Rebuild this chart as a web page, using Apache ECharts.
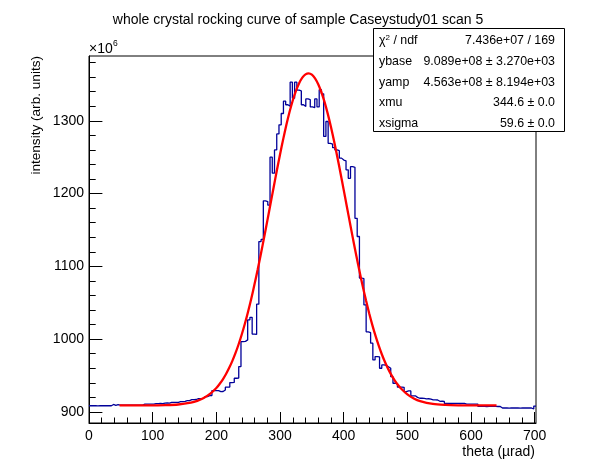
<!DOCTYPE html>
<html><head><meta charset="utf-8">
<script src="https://cdn.jsdelivr.net/npm/echarts@6/dist/echarts.min.js"></script>
<style>html,body{margin:0;padding:0;background:#fff}#c{width:596px;height:472px}</style>
</head><body><div id="c"></div>
<script>
// ---- data ----
const binWidth = 3.51;           // histogram bin width (µrad), bins start at 0
const histValues = [
  908.5,908.5,908.5,908.4,908.5,908.5,908.6,908.5,908.5,908.5,
  910.3,909.0,910.0,909.3,
  909.3,909.2,909.3,909.3,909.4,909.3,909.2,909.3,909.4,909.3,
  910.7,910.6,910.8,910.7,910.7,
  911.5,911.4,911.6,911.5,
  912.2,912.3,912.2,
  913.0,913.1,913.0,913.2,
  914.3,914.2,914.4,
  915.5,915.6,
  917.0,916.9,917.1,
  918.3,918.4,918.3,
  921.0,921.1,
  922.4,922.5,
  929.3,929.2,929.4,
  928.0,928.1,
  930.2,
  934.0,934.1,
  940.3,940.5,
  946.3,946.6,
  962.3,
  996.6,997.0,
  999.0,
  1026.5,1030.0,
  1007.0,1006.5,
  1048,
  1134,
  1137,
  1190,1189,
  1184,
  1250,
  1228,
  1260,
  1282,
  1294.5,
  1310,
  1327,
  1322,
  1320,
  1353,
  1331,
  1353,
  1342,1341,
  1322,
  1319.7,
  1330,1329,
  1319,1318,
  1330,
  1319,
  1342.6,
  1337,
  1278.5,
  1299,
  1269,1268,
  1263,
  1260,1259,
  1248.7,
  1246,1245,
  1232.6,
  1221,
  1237,1236,
  1166,
  1141,
  1084,1083,
  1047,
  1010,1009,
  994.4,
  971.5,
  976,975.5,
  960,
  964.6,964,
  962,
  960,
  948.5,
  939.4,939,
  934,934.2,933.8,
  928,
  929,928.8,
  922,922.2,
  920,
  918.8,918.9,918.7,
  918,918.1,
  917.5,
  916.5,916.6,916.4,
  914.6,914.7,914.5,
  911.7,911.8,911.6,911.7,911.9,911.7,911.6,911.8,911.7,
  910.7,910.8,910.6,910.7,910.7,910.8,
  907.6,907.7,907.6,907.5,907.6,907.7,907.6,907.6,907.5,907.6,
  905.4,905.4,905.5,905.3,905.4,905.4,905.5,905.4,905.3,905.4,905.4,905.5,905.4,905.4,
  904,
  908
];
// red fit curve
const fitX = [48,60,80,100,120,140,160,170,180,190,200,205,210,215,220,225,230,235,240,245,250,255,260,265,270,275,280,285,290,295,300,305,310,315,320,325,330,335,340,345,350,355,360,365,370,375,380,385,390,395,400,405,410,415,420,425,430,435,440,445,450,455,460,465,470,475,480,485,490,500,510,520,540,560,580,600,620,640];
const fitY = [908.9,908.9,908.9,909.0,909.3,910.2,912.7,915.1,919.0,924.7,932.9,938.3,944.5,951.8,960.2,969.8,980.7,993.0,1006.7,1021.8,1038.4,1056.3,1075.6,1095.9,1117.4,1139.6,1162.5,1185.6,1208.8,1231.6,1253.8,1274.8,1294.4,1312.3,1327.9,1341.2,1351.7,1359.3,1363.8,1365.2,1363.3,1358.3,1350.2,1339.2,1325.6,1309.5,1291.4,1271.5,1250.3,1228.0,1205.1,1182.0,1158.8,1136.0,1113.9,1092.6,1072.3,1053.4,1035.6,1019.3,1004.4,991.0,978.9,968.2,958.8,950.6,943.4,937.4,932.2,924.1,918.6,914.9,911.0,909.6,909.1,909.0,908.9,908.9];

const xMajorTicks = [0,100,200,300,400,500,600,700];
const xMinorTicks = [20,40,60,80,120,140,160,180,220,240,260,280,320,340,360,380,420,440,460,480,520,540,560,580,620,640,660,680];
const yMajorTicks = [900,1000,1100,1200,1300];
const yMinorTicks = [920,940,960,980,1020,1040,1060,1080,1120,1140,1160,1180,1220,1240,1260,1280,1320,1340,1360,1380];

const titleText = 'whole crystal rocking curve of sample Caseystudy01 scan 5';
const xTitle = 'theta (\u00b5rad)';
const yTitle = 'intensity (arb. units)';
const statsLabels = ['\u03c7{sup|2} / ndf', 'ybase', 'yamp', 'xmu', 'xsigma'];
const statsValues = ['7.436e+07 / 169', '9.089e+08 \u00b1 3.270e+03', '4.563e+08 \u00b1 8.194e+03', '344.6 \u00b1 0.0', '59.6 \u00b1 0.0'];

// ---- chart ----
const FONT = '"Liberation Sans", Arial, Helvetica, sans-serif';
const histData = histValues.map((v, i) => [i * binWidth, v]);
histData.push([histValues.length * binWidth, histValues[histValues.length - 1]]);
const fitData = fitX.map((x, i) => [x, fitY[i]]);

const X_MIN = 0, X_MAX = 702, Y_MIN = 884.8, Y_MAX = 1389;

function mkAxis(dim, major, minor, majLen, minLen, isMinor) {
  const a = {
    type: 'value', min: dim === 'x' ? X_MIN : Y_MIN, max: dim === 'x' ? X_MAX : Y_MAX,
    position: dim === 'x' ? 'bottom' : 'left',
    splitLine: { show: false },
    axisLine: { show: !isMinor, onZero: false, lineStyle: { color: '#000', width: 1 } },
    axisTick: { show: true, inside: true, length: isMinor ? minLen : majLen,
      customValues: isMinor ? minor : major, lineStyle: { color: '#000', width: 1 } },
    axisLabel: isMinor ? { show: false } : {
      show: true, customValues: major, color: '#000', fontSize: 14, fontFamily: FONT,
      margin: dim === 'x' ? 6 : 5,
      formatter: function (v) { return String(Math.round(v)); }
    }
  };
  return a;
}

const chart = echarts.init(document.getElementById('c'), null, { renderer: 'canvas' });

const statsGraphics = [{
  type: 'rect', z: 100,
  shape: { x: 373.5, y: 28.5, width: 191, height: 103 },
  style: { fill: '#fff', stroke: '#000', lineWidth: 1 }
}];
const rowY = [41, 62, 82.5, 103, 123.5];
statsLabels.forEach((t, i) => {
  statsGraphics.push({
    type: 'text', z: 101, x: 379, y: rowY[i],
    style: { text: t, fill: '#000', fontSize: 12.4, fontFamily: FONT, align: 'left', verticalAlign: 'middle',
      rich: { sup: { fontSize: 8, fontFamily: FONT, verticalAlign: 'top', padding: [0, 0, 6, 0] } } }
  });
  statsGraphics.push({
    type: 'text', z: 101, x: 555, y: rowY[i],
    style: { text: statsValues[i], fill: '#000', fontSize: 12.4, fontFamily: FONT, align: 'right', verticalAlign: 'middle' }
  });
});

chart.setOption({
  animation: false,
  backgroundColor: '#fff',
  title: {
    text: titleText, left: 'center', top: 8,
    textStyle: { fontSize: 14, fontWeight: 'normal', fontFamily: FONT, color: '#000' }
  },
  grid: { left: 89, right: 60, top: 56, bottom: 49, show: true, borderColor: '#000', borderWidth: 1, backgroundColor: 'transparent' },
  xAxis: [
    mkAxis('x', xMajorTicks, xMinorTicks, 11, 5.5, false),
    mkAxis('x', xMajorTicks, xMinorTicks, 11, 5.5, true)
  ],
  yAxis: [
    mkAxis('y', yMajorTicks, yMinorTicks, 13.4, 6.7, false),
    mkAxis('y', yMajorTicks, yMinorTicks, 13.4, 6.7, true)
  ],
  series: [
    {
      type: 'line', xAxisIndex: 0, yAxisIndex: 0, data: histData, step: 'end',
      symbol: 'none', showSymbol: false, silent: true,
      lineStyle: { color: '#000099', width: 1.3 }, z: 2
    },
    {
      type: 'line', xAxisIndex: 0, yAxisIndex: 0, data: fitData, smooth: 0.3,
      symbol: 'none', showSymbol: false, silent: true,
      lineStyle: { color: '#ff0000', width: 2.3 }, z: 3
    }
  ],
  graphic: [
    { type: 'text', x: 89, y: 49, style: { text: '\u00d710', fill: '#000', fontSize: 14, fontFamily: FONT, align: 'left', verticalAlign: 'middle' } },
    { type: 'text', x: 113, y: 44, style: { text: '6', fill: '#000', fontSize: 8.5, fontFamily: FONT, align: 'left', verticalAlign: 'middle' } },
    { type: 'text', x: 36.5, y: 56, rotation: Math.PI / 2,
      style: { text: yTitle, fill: '#000', fontSize: 13.6, fontFamily: FONT, align: 'right', verticalAlign: 'middle' } },
    { type: 'text', x: 535, y: 452,
      style: { text: xTitle, fill: '#000', fontSize: 14, fontFamily: FONT, align: 'right', verticalAlign: 'middle' } }
  ].concat(statsGraphics)
});
</script>
</body></html>
